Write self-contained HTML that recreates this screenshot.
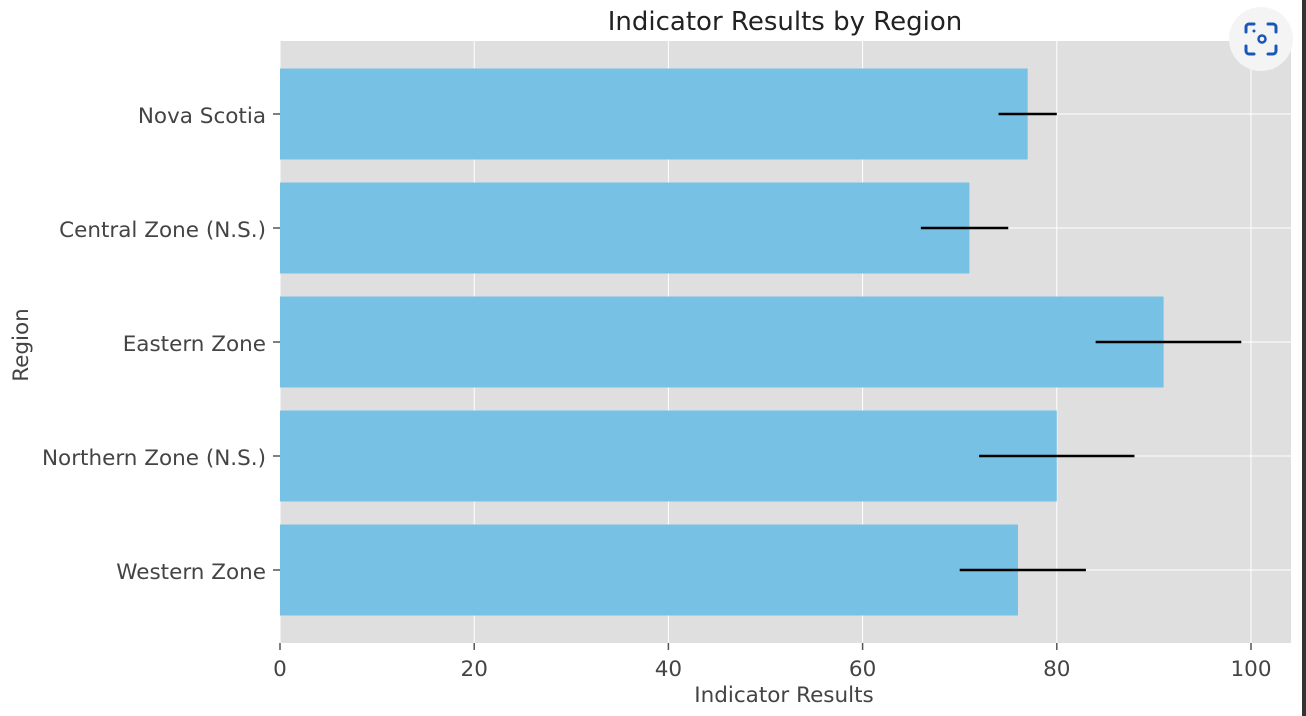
<!DOCTYPE html>
<html><head><meta charset="utf-8"><style>
body{margin:0;background:#fff;}
svg{display:block;font-family:"DejaVu Sans","Liberation Sans",sans-serif;}
</style></head><body>
<svg id="chart" width="1306" height="716">
<rect x="1302" y="0" width="4" height="716" fill="#333"/>
<text x="785" y="30" font-size="26" text-anchor="middle" fill="#222">Indicator Results by Region</text>
<rect x="280" y="41" width="1011" height="602" fill="#dfdfdf"/>
<g id="grid"></g>
<g id="bars"></g>
<g id="errs"></g>
<g id="xt"></g>
<g id="yt"></g>
<text x="784" y="702" font-size="21.5" text-anchor="middle" fill="#444">Indicator Results</text>
<text transform="translate(28,345) rotate(-90)" font-size="21.5" text-anchor="middle" fill="#444">Region</text>
<g>
<circle cx="1261" cy="39" r="32" fill="#f4f4f4"/>
<path d="M1246 32v-5a3 3 0 0 1 3-3h5 M1268 24h5a3 3 0 0 1 3 3v5 M1276 46v5a3 3 0 0 1-3 3h-5 M1254 54h-5a3 3 0 0 1-3-3v-5" stroke="#1a56b8" stroke-width="3" fill="none" stroke-linecap="round"/>
<circle cx="1262" cy="39" r="3.5" stroke="#1a56b8" stroke-width="2.5" fill="none"/>
<circle cx="1254" cy="31" r="1.5" fill="#1a56b8"/>
</g>
</svg>
<script>
const categories=["Nova Scotia","Central Zone (N.S.)","Eastern Zone","Northern Zone (N.S.)","Western Zone"];
const values=[77,71,91,80,76];
const errLow=[74,66,84,72,70];
const errHigh=[80,75,99,88,83];
const xTicks=[0,20,40,60,80,100];
const NS="http://www.w3.org/2000/svg";
const X0=280,PX=9.71;
const x=v=>X0+v*PX;
const y=i=>114+i*114;
const BH=91;
function mk(tag,attrs,parent){const e=document.createElementNS(NS,tag);for(const k in attrs)e.setAttribute(k,attrs[k]);document.getElementById(parent).appendChild(e);return e;}
xTicks.forEach(t=>{
 const g=mk("line",{x1:x(t),x2:x(t),y1:41,y2:643,stroke:"#fff","stroke-width":1},"grid");
 
 
 const tk=mk("line",{x1:x(t),x2:x(t),y1:643,y2:650,stroke:"#555","stroke-width":1.5},"xt");
 
 
 const tl=mk("text",{x:x(t),y:676,"font-size":21.5,"text-anchor":"middle",fill:"#444"},"xt");
 tl.textContent=t;
 
 
});
categories.forEach((c,i)=>{
 const gl=mk("line",{x1:280,x2:1291,y1:y(i),y2:y(i),stroke:"#fff","stroke-width":1},"grid");
 
 
 const b=mk("rect",{x:X0,y:y(i)-BH/2,width:values[i]*PX,height:BH,fill:"#77c1e4"},"bars");
 
 
 const e=mk("line",{x1:x(errLow[i]),x2:x(errHigh[i]),y1:y(i),y2:y(i),stroke:"#000","stroke-width":2.5},"errs");
 
 
 const tk=mk("line",{x1:273,x2:280,y1:y(i),y2:y(i),stroke:"#555","stroke-width":1.5},"yt");
 
 
 const tl=mk("text",{x:266,y:y(i)+9,"font-size":21.5,"text-anchor":"end",fill:"#444"},"yt");
 tl.textContent=c;
 
 
});
</script>
</body></html>
